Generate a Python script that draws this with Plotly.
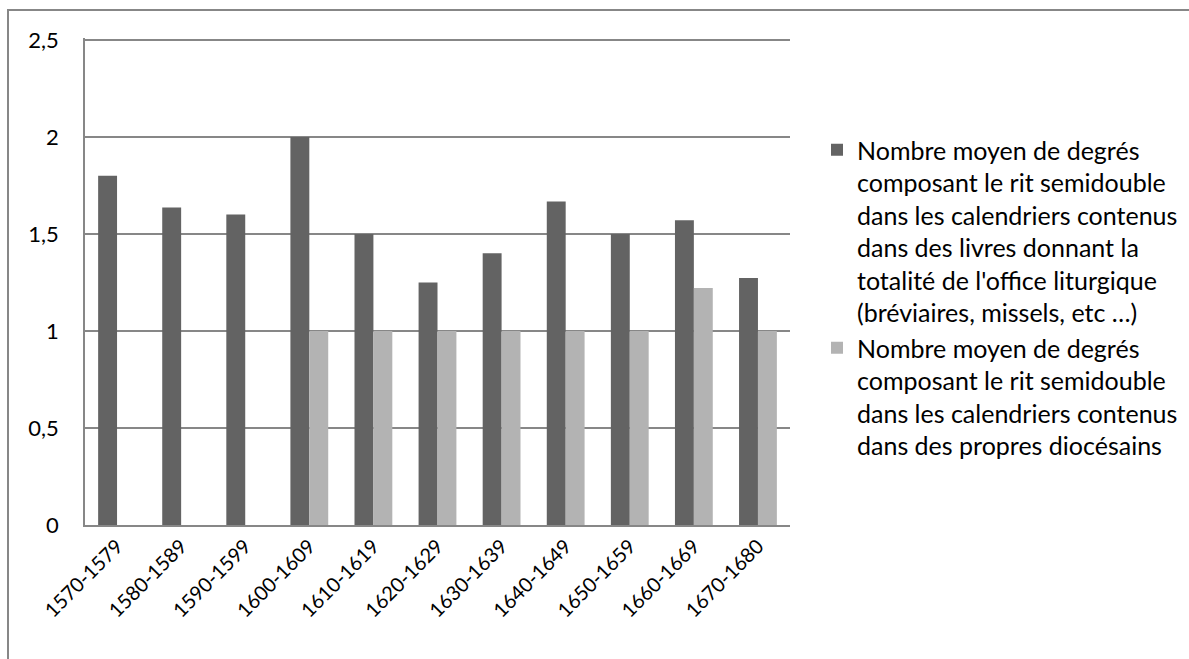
import plotly.graph_objects as go

categories = ["1570-1579", "1580-1589", "1590-1599", "1600-1609", "1610-1619",
              "1620-1629", "1630-1639", "1640-1649", "1650-1659", "1660-1669", "1670-1680"]
livres_complets = [1.8, 1.636, 1.6, 2.0, 1.5, 1.25, 1.4, 1.667, 1.5, 1.571, 1.273]
propres_diocesains = [None, None, None, 1.0, 1.0, 1.0, 1.0, 1.0, 1.0, 1.222, 1.0]
y_ticks = [0, 0.5, 1, 1.5, 2, 2.5]

name1 = ("Nombre moyen de degrés<br>composant le rit semidouble<br>dans les calendriers contenus"
         "<br>dans des livres donnant la<br>totalité de l'office liturgique<br>(bréviaires, missels, etc …)")
name2 = ("Nombre moyen de degrés<br>composant le rit semidouble<br>dans les calendriers contenus"
         "<br>dans des propres diocésains")

FONT = "Lato"
L, R, T, B = 85, 399, 38, 134
W, H = 1189, 659

fig = go.Figure()
fig.add_trace(go.Bar(x=categories, y=livres_complets, name=name1, legendgroup="a",
                     marker=dict(color="#636363", line=dict(width=0))))
fig.add_trace(go.Bar(x=categories, y=propres_diocesains, name=name2, legendgroup="b",
                     marker=dict(color="#b3b3b3", line=dict(width=0))))

pw, ph = W - L - R, H - T - B
fig.add_shape(type="rect", xref="paper", yref="paper",
              x0=(8 - L) / pw, x1=(W + 20 - L) / pw,
              y0=-(H + 20 - T - ph) / ph, y1=(T + ph - 10) / ph,
              line=dict(color="#878787", width=2), fillcolor="rgba(0,0,0,0)", layer="below")

fig.update_layout(
    width=W, height=H,
    margin=dict(l=L, r=R, t=T, b=B, pad=0, autoexpand=False),
    paper_bgcolor="white", plot_bgcolor="white",
    barmode="group", bargap=0.41, bargroupgap=0,
    font=dict(family=FONT, size=20, color="black"),
    legend=dict(x=(817 - L) / pw, y=(T + ph - 127) / ph, xanchor="left", yanchor="top",
                font=dict(family=FONT, size=25, color="black"),
                tracegroupgap=12, itemwidth=30, bgcolor="rgba(0,0,0,0)",
                traceorder="normal", valign="top"),
    showlegend=True,
    separators=", ",
)
fig.update_yaxes(range=[0, 2.51], tickvals=y_ticks, tickformat=".1~f",
                 showgrid=True, gridcolor="#878787", gridwidth=1.5,
                 showline=True, linecolor="#878787", linewidth=1.5,
                 ticks="", ticklabelstandoff=20, zeroline=False, automargin=False,
                 tickfont=dict(family=FONT, size=22))
fig.update_xaxes(showline=True, linecolor="#878787", linewidth=1.5, ticks="",
                 tickangle=-45, tickfont=dict(family=FONT, size=20), showgrid=False,
                 automargin=False)
fig.write_html("out.html", config={"displayModeBar": False},
               post_script="document.body.style.margin='0';document.body.style.overflow='hidden';")
